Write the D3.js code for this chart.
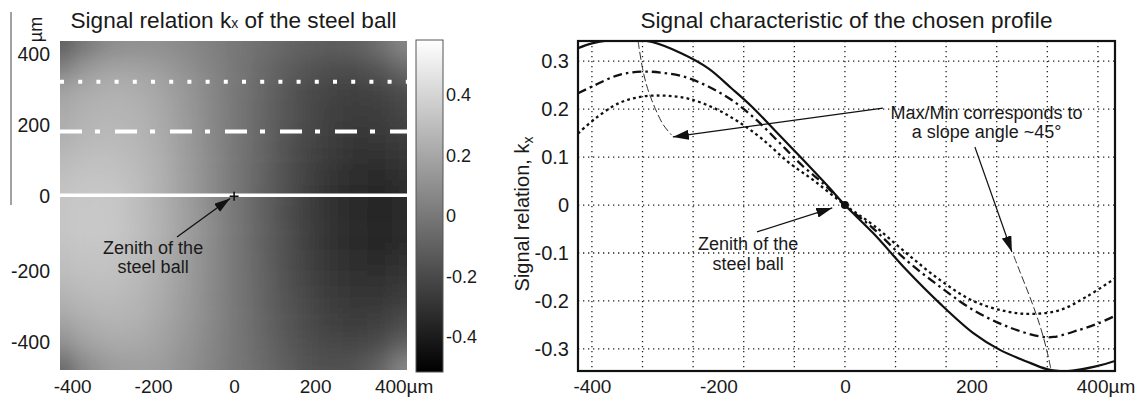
<!DOCTYPE html>
<html><head><meta charset="utf-8">
<script src="https://cdn.jsdelivr.net/npm/d3@7"></script>
<style>
html,body{margin:0;padding:0;background:#fff;}
svg{display:block;font-family:"Liberation Sans",Arial,Helvetica,sans-serif;}
</style></head>
<body><svg id="c" width="1143" height="399"></svg>
<script>
// ---------- DATA ----------
// Heatmap of k_x : grid centres (µm) and values (rows from top y=420 to bottom y=-480)
const mapX = [-420,-360,-300,-240,-180,-120,-60,0,60,120,180,240,300,360,420];
const mapY = [420,360,300,240,180,120,60,0,-60,-120,-180,-240,-300,-360,-420,-480];
const mapValues = [
  [-0.10,0.02,0.09,0.11,0.10,0.075,0.04,0,-0.035,-0.07,-0.10,-0.115,-0.10,-0.04,0.06],
  [0.04,0.15,0.19,0.185,0.16,0.112,0.056,0,-0.05,-0.105,-0.155,-0.185,-0.185,-0.15,-0.06],
  [0.18,0.225,0.24,0.23,0.195,0.137,0.068,0,-0.058,-0.13,-0.187,-0.222,-0.235,-0.22,-0.18],
  [0.215,0.255,0.262,0.25,0.21,0.148,0.074,0,-0.062,-0.135,-0.195,-0.237,-0.255,-0.248,-0.215],
  [0.233,0.27,0.278,0.262,0.22,0.155,0.08,0,-0.065,-0.14,-0.20,-0.245,-0.27,-0.265,-0.235],
  [0.27,0.30,0.30,0.278,0.232,0.162,0.083,0,-0.07,-0.15,-0.217,-0.268,-0.296,-0.298,-0.275],
  [0.305,0.328,0.325,0.293,0.24,0.167,0.086,0,-0.076,-0.16,-0.232,-0.288,-0.32,-0.325,-0.308],
  [0.327,0.342,0.34,0.30,0.243,0.17,0.087,0,-0.08,-0.165,-0.24,-0.30,-0.335,-0.342,-0.327],
  [0.335,0.348,0.343,0.303,0.245,0.171,0.088,0,-0.081,-0.167,-0.243,-0.303,-0.34,-0.348,-0.335],
  [0.33,0.345,0.34,0.30,0.243,0.17,0.087,0,-0.08,-0.165,-0.24,-0.30,-0.337,-0.345,-0.33],
  [0.31,0.33,0.325,0.29,0.235,0.165,0.084,0,-0.077,-0.16,-0.232,-0.29,-0.322,-0.33,-0.31],
  [0.28,0.305,0.305,0.278,0.227,0.16,0.081,0,-0.073,-0.152,-0.222,-0.276,-0.302,-0.305,-0.28],
  [0.24,0.275,0.28,0.262,0.215,0.152,0.077,0,-0.068,-0.144,-0.207,-0.257,-0.278,-0.275,-0.24],
  [0.18,0.235,0.25,0.24,0.2,0.142,0.072,0,-0.062,-0.133,-0.192,-0.235,-0.25,-0.235,-0.18],
  [0.09,0.18,0.21,0.21,0.18,0.127,0.064,0,-0.055,-0.118,-0.17,-0.205,-0.21,-0.18,-0.09],
  [-0.07,0.09,0.15,0.17,0.155,0.11,0.056,0,-0.048,-0.103,-0.148,-0.172,-0.155,-0.08,0.07]
];
const mapTicks = [-400,-200,0,200,400];
const colorTicks = [0.4,0.2,0,-0.2,-0.4];
const profileRowsY = [0,180,320];            // profile lines drawn on the map (µm)

// Profiles along the chosen rows
const solidX = [-422,-400,-374,-340,-305,-258,-216,-179,-147,-111,-68,-26,0,45,97,150,203,245,287,319,340,360,395,427];
const solidK = [0.327,0.337,0.343,0.345,0.34,0.316,0.285,0.243,0.205,0.156,0.097,0.038,0,-0.059,-0.135,-0.205,-0.267,-0.302,-0.326,-0.342,-0.346,-0.345,-0.337,-0.325];
const dashDotX = [-422,-395,-358,-321,-290,-253,-216,-179,-142,-105,-68,-32,0,45,97,150,203,256,308,330,371,400,427];
const dashDotK = [0.233,0.25,0.271,0.278,0.276,0.267,0.247,0.219,0.18,0.132,0.083,0.042,0,-0.049,-0.115,-0.17,-0.219,-0.253,-0.274,-0.275,-0.26,-0.247,-0.231];
const dottedX = [-422,-395,-358,-321,-285,-248,-205,-169,-132,-90,-47,0,45,97,150,203,256,297,340,382,427];
const dottedK = [0.149,0.18,0.212,0.226,0.228,0.222,0.201,0.174,0.139,0.09,0.049,0,-0.042,-0.1,-0.156,-0.2,-0.222,-0.227,-0.219,-0.191,-0.153];
// Max/Min locus (thin dashed)
const locusLeftX = [-327,-320,-312,-300,-287,-274];
const locusLeftK = [0.342,0.285,0.243,0.2015,0.167,0.146];
const locusRightX = [267,277,292.5,308,319,326];
const locusRightK = [-0.106,-0.14,-0.192,-0.25,-0.302,-0.344];
const profXTicks = [-400,-200,0,200,400];
const profYTicks = [0.3,0.2,0.1,0,-0.1,-0.2,-0.3];
const profXGrid = [-400,-320,-240,-160,-80,0,80,160,240,320,400];

// ---------- DRAW ----------
const svg = d3.select("#c");
const defs = svg.append("defs");
const TXT = "#1a1a1a";

defs.append("marker").attr("id","arr").attr("viewBox","0 0 16 10")
  .attr("refX",16).attr("refY",5).attr("markerWidth",16).attr("markerHeight",10)
  .attr("markerUnits","userSpaceOnUse").attr("orient","auto")
  .append("path").attr("d","M0,0 L16,5 L0,10 Z").attr("fill","#111");

// ===== Left: heat map =====
const hx = d3.scaleLinear().domain([-430,427]).range([60,407]);
const hy = d3.scaleLinear().domain([-490,438]).range([370,41]);
const gray = d3.scaleLinear().domain([-0.516,0.582]).range(["#000000","#ffffff"]);

defs.append("clipPath").attr("id","hmClip").append("rect")
  .attr("x",hx.range()[0]).attr("y",hy.range()[1])
  .attr("width",hx.range()[1]-hx.range()[0]).attr("height",hy.range()[0]-hy.range()[1]);
const blur = defs.append("filter").attr("id","blur").attr("filterUnits","userSpaceOnUse")
  .attr("x",0).attr("y",0).attr("width",470).attr("height",430);
blur.append("feGaussianBlur").attr("stdDeviation",10);

const cells = [];
mapY.forEach((yv,i)=>mapX.forEach((xv,j)=>{
  let x0 = hx(xv-30), x1 = hx(xv+30), y0 = hy(yv+30), y1 = hy(yv-30);
  if (j===0) x0 -= 40; if (j===mapX.length-1) x1 += 40;
  if (i===0) y0 -= 40; if (i===mapY.length-1) y1 += 40;
  cells.push({x0,x1,y0,y1,v:mapValues[i][j]});
}));
svg.append("g").attr("clip-path","url(#hmClip)")
  .append("g").attr("filter","url(#blur)")
  .selectAll("rect").data(cells).join("rect")
  .attr("x",d=>d.x0).attr("y",d=>d.y0)
  .attr("width",d=>d.x1-d.x0+0.5).attr("height",d=>d.y1-d.y0+0.5)
  .attr("fill",d=>gray(d.v));

// profile lines on the map
const rowStyles = [
  {w:3.5, dash:null},
  {w:4, dash:"22,13,5,15"},
  {w:4, dash:"4,14.2"}
];
svg.append("g").selectAll("line").data(profileRowsY).join("line")
  .attr("x1",hx.range()[0]).attr("x2",hx.range()[1])
  .attr("y1",d=>hy(d)-1).attr("y2",d=>hy(d)-1)
  .attr("stroke","#fff").attr("stroke-width",(d,i)=>rowStyles[i].w)
  .attr("stroke-dasharray",(d,i)=>rowStyles[i].dash);

// zenith cross
const zc = svg.append("g").attr("stroke","#111").attr("stroke-width",1.6);
zc.append("line").attr("x1",hx(0)-4.5).attr("x2",hx(0)+4.5).attr("y1",hy(0)).attr("y2",hy(0));
zc.append("line").attr("x1",hx(0)).attr("x2",hx(0)).attr("y1",hy(0)-4.5).attr("y2",hy(0)+4.5);

// axes of map
const fmt = d=>String(d).replace("\u2212","-");
const mxAxis = svg.append("g").attr("transform",`translate(0,${hy.range()[0]})`)
  .call(d3.axisBottom(hx).tickValues(mapTicks).tickSize(0).tickPadding(9.5).tickFormat(fmt));
const myAxis = svg.append("g").attr("transform",`translate(${hx.range()[0]},0)`)
  .call(d3.axisLeft(hy).tickValues(mapTicks).tickSize(0).tickPadding(10).tickFormat(fmt));
[mxAxis,myAxis].forEach(a=>{a.select(".domain").remove();
  a.selectAll("text").attr("font-size",19.5).attr("fill",TXT).attr("font-family",null);});
mxAxis.selectAll("text").attr("font-size",19);
myAxis.selectAll(".tick").filter(d=>d<0).select("text").attr("dy","0.55em");
mxAxis.selectAll(".tick").filter(d=>d===400).select("text")
  .attr("dx","0.4em").append("tspan").text("µm");

// small vertical line + unit at top-left
svg.append("line").attr("x1",11).attr("x2",11).attr("y1",12).attr("y2",205)
  .attr("stroke","#444").attr("stroke-width",1);
svg.append("text").attr("transform","translate(42,29.5) rotate(-90)")
  .attr("text-anchor","middle").attr("font-size",18).attr("fill",TXT).text("µm");

// title
const t1 = svg.append("text").attr("x",(hx.range()[0]+hx.range()[1])/2).attr("y",28)
  .attr("text-anchor","middle").attr("font-size",22.6).attr("fill",TXT);
t1.append("tspan").text("Signal relation k");
t1.append("tspan").attr("font-size",14).text("x");
t1.append("tspan").text(" of the steel ball");

// annotation (map)
svg.append("line").attr("x1",hx(-141)).attr("y1",hy(-115)).attr("x2",hx(-10)).attr("y2",hy(-6))
  .attr("stroke","#111").attr("stroke-width",1.3).attr("marker-end","url(#arr)");
svg.append("text").attr("text-anchor","middle").attr("font-size",18).attr("fill",TXT)
  .selectAll("tspan").data(["Zenith of the","steel ball"]).join("tspan")
  .attr("x",hx(-200)).attr("y",(d,i)=>hy(-163)+i*19).text(d=>d);

// colorbar
const cy = d3.scaleLinear().domain([-0.516,0.582]).range([372,40]);
const grad = defs.append("linearGradient").attr("id","cbg").attr("x1",0).attr("x2",0).attr("y1",1).attr("y2",0);
grad.append("stop").attr("offset","0%").attr("stop-color",gray(-0.516));
grad.append("stop").attr("offset","100%").attr("stop-color",gray(0.582));
svg.append("rect").attr("x",416).attr("y",cy.range()[1]).attr("width",27)
  .attr("height",cy.range()[0]-cy.range()[1]).attr("fill","url(#cbg)")
  .attr("stroke","#555").attr("stroke-width",1);
const cAxis = svg.append("g").attr("transform","translate(443,0)")
  .call(d3.axisRight(cy).tickValues(colorTicks).tickSize(0).tickPadding(3).tickFormat(d=>d===0?"0":String(d).replace("\u2212","-")));
cAxis.select(".domain").remove();
cAxis.selectAll("text").attr("font-size",18).attr("fill",TXT).attr("font-family",null);

// ===== Right: profiles =====
const px = d3.scaleLinear().domain([-422,427]).range([578,1115]);
const py = d3.scaleLinear().domain([-0.346,0.342]).range([371,41]);
defs.append("clipPath").attr("id","pClip").append("rect")
  .attr("x",578).attr("y",41).attr("width",537).attr("height",330);

const grid = svg.append("g").attr("stroke","#222").attr("stroke-width",1.3).attr("stroke-dasharray","1.3,3.7");
grid.selectAll(".vg").data(profXGrid).join("line").attr("class","vg")
  .attr("x1",d=>px(d)).attr("x2",d=>px(d)).attr("y1",py.range()[1]).attr("y2",py.range()[0]);
grid.selectAll(".hg").data(profYTicks).join("line").attr("class","hg")
  .attr("y1",d=>py(d)).attr("y2",d=>py(d)).attr("x1",px.range()[0]).attr("x2",px.range()[1]);

const line = d3.line().x(d=>px(d[0])).y(d=>py(d[1])).curve(d3.curveCatmullRom.alpha(0.5));
const zip = (a,b)=>a.map((v,i)=>[v,b[i]]);
const curves = svg.append("g").attr("clip-path","url(#pClip)").attr("fill","none");
curves.append("path").attr("d",line(zip(dottedX,dottedK))).attr("stroke","#111").attr("stroke-width",2.3).attr("stroke-dasharray","2.8,3.2");
curves.append("path").attr("d",line(zip(dashDotX,dashDotK))).attr("stroke","#111").attr("stroke-width",2.3).attr("stroke-dasharray","9,4,2.5,4");
curves.append("path").attr("d",line(zip(solidX,solidK))).attr("stroke","#111").attr("stroke-width",2.2);
curves.append("path").attr("d",line(zip(locusLeftX,locusLeftK))).attr("stroke","#333").attr("stroke-width",1).attr("stroke-dasharray","8,3");
curves.append("path").attr("d",line(zip(locusRightX,locusRightK))).attr("stroke","#333").attr("stroke-width",1).attr("stroke-dasharray","8,3");

// zenith point
svg.append("circle").attr("cx",px(0)).attr("cy",py(0)).attr("r",4).attr("fill","#111");

// frame
svg.append("rect").attr("x",578).attr("y",41).attr("width",537).attr("height",330)
  .attr("fill","none").attr("stroke","#111").attr("stroke-width",2.2);

// axes
const pxAxis = svg.append("g").attr("transform","translate(0,371)")
  .call(d3.axisBottom(px).tickValues(profXTicks).tickSize(0).tickPadding(8.5).tickFormat(fmt));
const pyAxis = svg.append("g").attr("transform","translate(578,0)")
  .call(d3.axisLeft(py).tickValues(profYTicks).tickSize(0).tickPadding(9)
    .tickFormat(d=>d===0?"0":String(+d.toFixed(1)).replace("\u2212","-")));
[pxAxis,pyAxis].forEach(a=>{a.select(".domain").remove();
  a.selectAll("text").attr("font-size",20).attr("fill",TXT).attr("font-family",null);});
pxAxis.selectAll("text").attr("font-size",19);
pxAxis.selectAll(".tick").filter(d=>d===400).select("text")
  .attr("dx","0.4em").append("tspan").text("µm");

// y label
const yl = svg.append("text").attr("transform","translate(529,214) rotate(-90)")
  .attr("text-anchor","middle").attr("font-size",20).attr("fill",TXT);
yl.append("tspan").text("Signal relation, k");
yl.append("tspan").attr("font-size",14).attr("dy",4).text("x");

// title
svg.append("text").attr("x",(578+1115)/2).attr("y",28).attr("text-anchor","middle")
  .attr("font-size",22.6).attr("fill",TXT).text("Signal characteristic of the chosen profile");

// annotations
const arrows = [
  {x1:60,k1:0.202,x2:-272,k2:0.142},
  {x1:205.5,k1:0.121,x2:264,k2:-0.098},
  {x1:-139,k1:-0.056,x2:-20,k2:-0.006}
];
svg.append("g").selectAll("line").data(arrows).join("line")
  .attr("x1",d=>px(d.x1)).attr("y1",d=>py(d.k1)).attr("x2",d=>px(d.x2)).attr("y2",d=>py(d.k2))
  .attr("stroke","#111").attr("stroke-width",1.2).attr("marker-end","url(#arr)");
svg.append("text").attr("text-anchor","middle").attr("font-size",18).attr("fill",TXT)
  .selectAll("tspan").data(["Max/Min corresponds to","a slope angle ~45°"]).join("tspan")
  .attr("x",px(224)).attr("y",(d,i)=>py(0.179)+i*18.5).text(d=>d);
svg.append("text").attr("text-anchor","middle").attr("font-size",18).attr("fill",TXT)
  .selectAll("tspan").data(["Zenith of the","steel ball"]).join("tspan")
  .attr("x",px(-153)).attr("y",(d,i)=>py(-0.094)+i*20).text(d=>d);
</script></body></html>
